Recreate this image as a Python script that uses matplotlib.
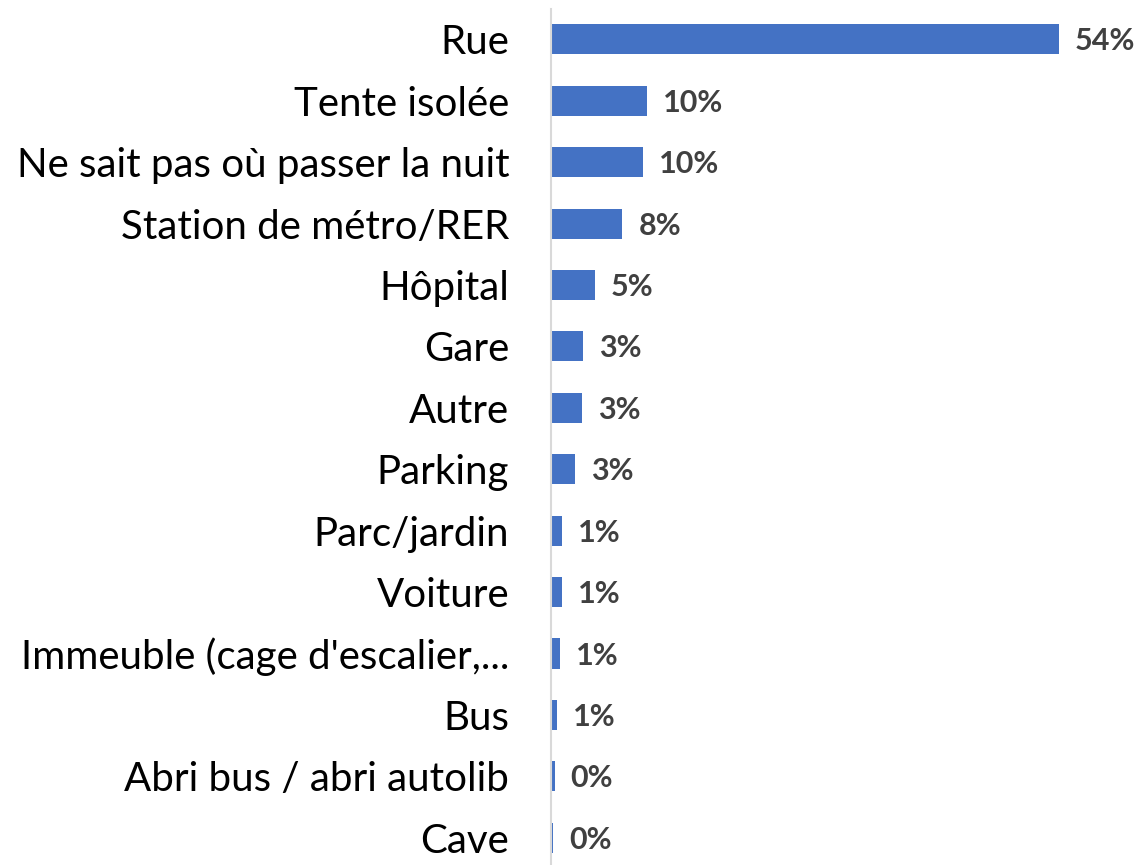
import matplotlib
matplotlib.use("Agg")
import matplotlib.pyplot as plt

# lieux où les personnes ont passé la nuit
categories = ["Rue", "Tente isolée", "Ne sait pas où passer la nuit",
              "Station de métro/RER", "Hôpital", "Gare", "Autre", "Parking",
              "Parc/jardin", "Voiture", "Immeuble (cage d'escalier,...",
              "Bus", "Abri bus / abri autolib", "Cave"]
values = [54.0, 10.2, 9.75, 7.6, 4.65, 3.4, 3.3, 2.55, 1.2, 1.2, 0.95, 0.6, 0.4, 0.2]

fig = plt.figure(figsize=(11.37, 8.65), dpi=100)
ax = fig.add_axes([0.4846, -0.004, 0.496, 0.994])

y = list(range(len(categories)))
ax.barh(y, values, height=0.49, color="#4472C4")
ax.set_ylim(len(categories) - 0.5, -0.5)
ax.set_xlim(0, 60)

for yi, v in zip(y, values):
    ax.annotate(f"{v:.0f}%", (v, yi), xytext=(16, -11), textcoords="offset pixels",
                va="baseline", ha="left", fontsize=22, fontweight="bold",
                color="#404040", family="Lato", annotation_clip=False)

ax.set_yticks(y)
ax.set_yticklabels(categories, fontsize=29, family="Lato", color="black")
ax.tick_params(axis="y", length=0, pad=30)
ax.set_xticks([])
for s in ["top", "right", "bottom"]:
    ax.spines[s].set_visible(False)
ax.spines["left"].set_color("#d9d9d9")
ax.spines["left"].set_linewidth(1.5)

fig.savefig("out.png", dpi=100)
